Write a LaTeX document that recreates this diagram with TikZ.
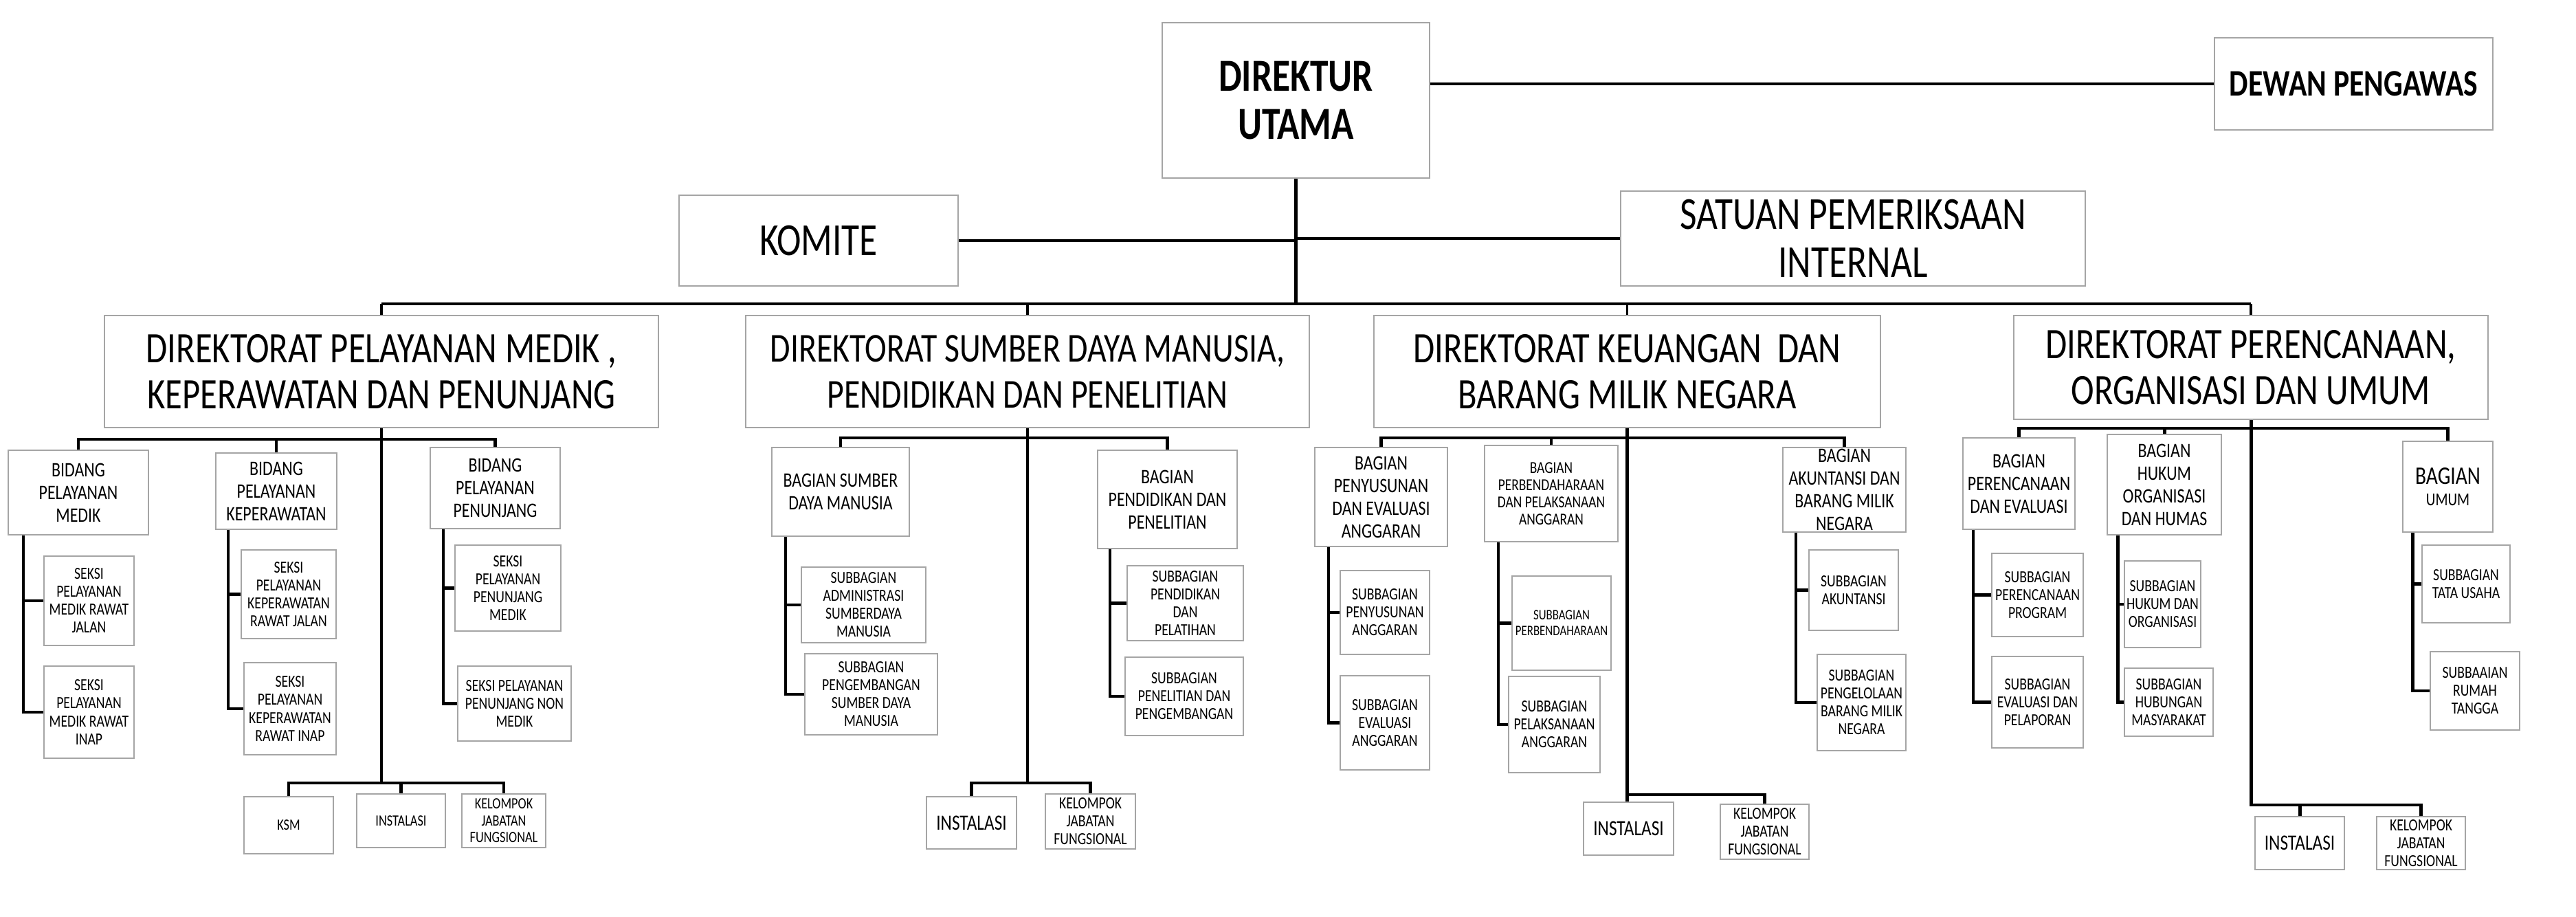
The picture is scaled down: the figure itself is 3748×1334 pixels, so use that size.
\documentclass[tikz,border=0pt]{standalone}
\usepackage{fontspec}
\setmainfont{Carlito}[FakeStretch=0.8]
\definecolor{boxgray}{RGB}{165,165,165}
\newcommand\bx[7]{\node[#6, minimum width={(#4-#2)*0.01cm}, minimum height={(#5-#3)*0.01cm}] (#1) at ({(#2+#4)/2},{(#3+#5)/2}) {#7};}
\tikzset{
  box/.style={draw=boxgray, line width=0.8pt, fill=white, inner sep=0pt, align=center, text=black},
  conn/.style={line width=1.4pt, black},
  thinconn/.style={line width=1.0pt, black},
  fbig/.style={font=\fontsize{19}{20}\selectfont},
  fdir/.style={font=\fontsize{18}{19}\selectfont},
  fbag/.style={font=\fontsize{8.5}{9.4}\selectfont},
  fsub/.style={font=\fontsize{7}{7.4}\selectfont},
  fsmall/.style={font=\fontsize{6.5}{7}\selectfont},
  fins/.style={font=\fontsize{9}{10}\selectfont},
}
\begin{document}
\begin{tikzpicture}[x=0.01cm, y=-0.01cm]
\fill[white] (0,0) rectangle (3748,1334);
\useasboundingbox (0,0) rectangle (3748,1334);

% top level
\bx{du}{1691}{33}{2080}{259}{box,font=\fontsize{19}{20}\selectfont\bfseries}{DIREKTUR\\UTAMA}
\bx{dp}{3222}{55}{3627}{189}{box,font=\fontsize{15.5}{16}\selectfont\bfseries}{DEWAN PENGAWAS}
\bx{kom}{988}{284}{1394}{416}{box,fbig}{KOMITE}
\bx{spi}{2358}{278}{3034}{416}{box,fbig}{SATUAN PEMERIKSAAN\\INTERNAL}

% directorates
\bx{d1}{152}{459}{958}{622}{box,fdir}{DIREKTORAT PELAYANAN MEDIK ,\\KEPERAWATAN DAN PENUNJANG}
\bx{d2}{1085}{459}{1905}{622}{box,font=\fontsize{17}{19}\selectfont}{DIREKTORAT SUMBER DAYA MANUSIA,\\PENDIDIKAN DAN PENELITIAN}
\bx{d3}{1999}{459}{2736}{622}{box,fdir}{DIREKTORAT KEUANGAN\ \ DAN\\BARANG MILIK NEGARA}
\bx{d4}{2930}{459}{3620}{610}{box,fdir}{DIREKTORAT PERENCANAAN,\\ORGANISASI DAN UMUM}

% D1 subtree
\bx{bpm}{12}{655}{216}{778}{box,fbag}{BIDANG\\PELAYANAN\\MEDIK}
\bx{bpk}{314}{659}{490}{770}{box,fbag}{BIDANG\\PELAYANAN\\KEPERAWATAN}
\bx{bpp}{626}{651}{815}{769}{box,fbag}{BIDANG\\PELAYANAN\\PENUNJANG}
\bx{smj}{64}{809}{195}{939}{box,fsub}{SEKSI\\PELAYANAN\\MEDIK RAWAT\\JALAN}
\bx{smi}{64}{969}{195}{1103}{box,fsub}{SEKSI\\PELAYANAN\\MEDIK RAWAT\\INAP}
\bx{skj}{351}{800}{489}{929}{box,fsub}{SEKSI\\PELAYANAN\\KEPERAWATAN\\RAWAT JALAN}
\bx{ski}{355}{964}{489}{1098}{box,fsub}{SEKSI\\PELAYANAN\\KEPERAWATAN\\RAWAT INAP}
\bx{spm}{662}{793}{816}{918}{box,fsub}{SEKSI\\PELAYANAN\\PENUNJANG\\MEDIK}
\bx{spn}{666}{969}{831}{1078}{box,fsub}{SEKSI PELAYANAN\\PENUNJANG NON\\MEDIK}
\bx{ksm}{355}{1159}{485}{1242}{box,fsmall}{KSM}
\bx{ins1}{519}{1155}{648}{1233}{box,fsmall}{INSTALASI}
\bx{kjf1}{672}{1155}{794}{1233}{box,fsmall}{KELOMPOK\\JABATAN\\FUNGSIONAL}

% D2 subtree
\bx{bsdm}{1123}{651}{1323}{780}{box,fbag}{BAGIAN SUMBER\\DAYA MANUSIA}
\bx{bpdp}{1597}{655}{1800}{798}{box,fbag}{BAGIAN\\PENDIDIKAN DAN\\PENELITIAN}
\bx{sasdm}{1166}{825}{1347}{935}{box,fsub}{SUBBAGIAN\\ADMINISTRASI\\SUMBERDAYA\\MANUSIA}
\bx{spsdm}{1171}{951}{1364}{1069}{box,fsub}{SUBBAGIAN\\PENGEMBANGAN\\SUMBER DAYA\\MANUSIA}
\bx{spdp}{1640}{823}{1809}{932}{box,fsub}{SUBBAGIAN\\PENDIDIKAN\\DAN\\PELATIHAN}
\bx{sppp}{1637}{956}{1809}{1070}{box,fsub}{SUBBAGIAN\\PENELITIAN DAN\\PENGEMBANGAN}
\bx{ins2}{1348}{1159}{1479}{1235}{box,fins}{INSTALASI}
\bx{kjf2}{1521}{1155}{1652}{1235}{box,fsub}{KELOMPOK\\JABATAN\\FUNGSIONAL}

% D3 subtree
\bx{bpea}{1913}{651}{2106}{795}{box,fbag}{BAGIAN\\PENYUSUNAN\\DAN EVALUASI\\ANGGARAN}
\bx{bppa}{2160}{648}{2354}{788}{box,font=\fontsize{6.9}{7.1}\selectfont}{BAGIAN\\PERBENDAHARAAN\\DAN PELAKSANAAN\\ANGGARAN}
\bx{bab}{2594}{651}{2773}{774}{box,fbag}{BAGIAN\\AKUNTANSI DAN\\BARANG MILIK\\NEGARA}
\bx{sbpa}{1950}{830}{2080}{952}{box,fsub}{SUBBAGIAN\\PENYUSUNAN\\ANGGARAN}
\bx{sbea}{1950}{983}{2080}{1120}{box,fsub}{SUBBAGIAN\\EVALUASI\\ANGGARAN}
\bx{sbpb}{2200}{838}{2344}{975}{box,font=\fontsize{6}{6.6}\selectfont}{SUBBAGIAN\\PERBENDAHARAAN}
\bx{sbpl}{2195}{984}{2328}{1124}{box,fsub}{SUBBAGIAN\\PELAKSANAAN\\ANGGARAN}
\bx{sbak}{2632}{800}{2762}{917}{box,fsub}{SUBBAGIAN\\AKUNTANSI}
\bx{sbbm}{2644}{952}{2773}{1092}{box,fsub}{SUBBAGIAN\\PENGELOLAAN\\BARANG MILIK\\NEGARA}
\bx{ins3}{2304}{1167}{2435}{1244}{box,fins}{INSTALASI}
\bx{kjf3}{2503}{1170}{2632}{1250}{box,fsub}{KELOMPOK\\JABATAN\\FUNGSIONAL}

% D4 subtree
\bx{bpe}{2856}{637}{3019}{770}{box,fbag}{BAGIAN\\PERENCANAAN\\DAN EVALUASI}
\bx{bho}{3066}{632}{3232}{778}{box,fbag}{BAGIAN\\HUKUM\\ORGANISASI\\DAN HUMAS}
\bx{bum}{3496}{642}{3627}{774}{box,font=\fontsize{7.5}{9}\selectfont}{{\fontsize{10.5}{11}\selectfont BAGIAN}\\UMUM}
\bx{sbpp}{2898}{805}{3031}{926}{box,fsub}{SUBBAGIAN\\PERENCANAAN\\PROGRAM}
\bx{sbep}{2898}{955}{3031}{1088}{box,fsub}{SUBBAGIAN\\EVALUASI DAN\\PELAPORAN}
\bx{sbho}{3091}{816}{3202}{942}{box,fsub}{SUBBAGIAN\\HUKUM DAN\\ORGANISASI}
\bx{sbhm}{3091}{972}{3220}{1071}{box,fsub}{SUBBAGIAN\\HUBUNGAN\\MASYARAKAT}
\bx{sbtu}{3524}{793}{3652}{906}{box,fsub}{SUBBAGIAN\\TATA USAHA}
\bx{sbrt}{3536}{948}{3666}{1062}{box,fsub}{SUBBAAIAN\\RUMAH\\TANGGA}
\bx{ins4}{3281}{1188}{3411}{1265}{box,fins}{INSTALASI}
\bx{kjf4}{3458}{1188}{3587}{1265}{box,fsub}{KELOMPOK\\JABATAN\\FUNGSIONAL}

% helper coordinates
\coordinate (busy) at (0,442);
\coordinate (ub1) at (0,639);
\coordinate (ub2) at (0,637);
\coordinate (ub3) at (0,637);
\coordinate (ub4) at (0,623);
\coordinate (bb1) at (0,1139);
\coordinate (bb2) at (0,1139);
\coordinate (bb3) at (0,1156);
\coordinate (bb4) at (0,1171);
\coordinate (x1a) at (34,0);
\coordinate (x1b) at (332,0);
\coordinate (x1c) at (645,0);
\coordinate (x2a) at (1143,0);
\coordinate (x2b) at (1615,0);
\coordinate (x3a) at (1933,0);
\coordinate (x3b) at (2180,0);
\coordinate (x3c) at (2613,0);
\coordinate (x4a) at (2871,0);
\coordinate (x4b) at (3081,0);
\coordinate (x4c) at (3510,0);

% top connectors
\draw[conn] (du.east |- dp.west) -- (dp.west);
\draw[conn] (du.south) -- (du.south |- busy);
\draw[conn] (kom.east) -- (kom.east -| du.south);
\draw[conn] (spi.west) -- (spi.west -| du.south);
\draw[conn] (d1.north |- busy) -- (d4.north |- busy);
\foreach \n in {d1,d2,d3,d4} \draw[thinconn] (\n.north) -- (\n.north |- busy);

% D1
\draw[conn] (d1.south) -- (d1.south |- bb1);
\draw[conn] (bpm.north) -- (bpm.north |- ub1) -- (bpp.north |- ub1) -- (bpp.north);
\draw[conn] (bpk.north) -- (bpk.north |- ub1);
\draw[conn] (bpm.south -| x1a) |- (smj.west);
\draw[conn] (bpm.south -| x1a) |- (smi.west);
\draw[conn] (bpk.south -| x1b) |- (skj.west);
\draw[conn] (bpk.south -| x1b) |- (ski.west);
\draw[conn] (bpp.south -| x1c) |- (spm.west);
\draw[conn] (bpp.south -| x1c) |- (spn.west);
\draw[conn] (ksm.north) -- (ksm.north |- bb1) -- (kjf1.north |- bb1) -- (kjf1.north);
\draw[conn] (ins1.north) -- (ins1.north |- bb1);

% D2
\draw[conn] (d2.south) -- (d2.south |- bb2);
\draw[conn] (bsdm.north) -- (bsdm.north |- ub2) -- (bpdp.north |- ub2) -- (bpdp.north);
\draw[conn] (bsdm.south -| x2a) |- (sasdm.west);
\draw[conn] (bsdm.south -| x2a) |- (spsdm.west);
\draw[conn] (bpdp.south -| x2b) |- (spdp.west);
\draw[conn] (bpdp.south -| x2b) |- (sppp.west);
\draw[conn] (ins2.north) -- (ins2.north |- bb2) -- (kjf2.north |- bb2) -- (kjf2.north);

% D3
\draw[conn] (d3.south) -- (d3.south |- ins3.north);
\draw[conn] (bpea.north) -- (bpea.north |- ub3) -- (bab.north |- ub3) -- (bab.north);
\draw[conn] (bppa.north) -- (bppa.north |- ub3);
\draw[conn] (bpea.south -| x3a) |- (sbpa.west);
\draw[conn] (bpea.south -| x3a) |- (sbea.west);
\draw[conn] (bppa.south -| x3b) |- (sbpb.west);
\draw[conn] (bppa.south -| x3b) |- (sbpl.west);
\draw[conn] (bab.south -| x3c) |- (sbak.west);
\draw[conn] (bab.south -| x3c) |- (sbbm.west);
\draw[conn] (d3.south |- bb3) -- (kjf3.north |- bb3) -- (kjf3.north);

% D4
\draw[conn] (d4.south) -- (d4.south |- bb4) -- (kjf4.north |- bb4) -- (kjf4.north);
\draw[conn] (ins4.north) -- (ins4.north |- bb4);
\draw[conn] (bpe.north) -- (bpe.north |- ub4) -- (bum.north |- ub4) -- (bum.north);
\draw[conn] (bho.north) -- (bho.north |- ub4);
\draw[conn] (bpe.south -| x4a) |- (sbpp.west);
\draw[conn] (bpe.south -| x4a) |- (sbep.west);
\draw[conn] (bho.south -| x4b) |- (sbho.west);
\draw[conn] (bho.south -| x4b) |- (sbhm.west);
\draw[conn] (bum.south -| x4c) |- (sbtu.west);
\draw[conn] (bum.south -| x4c) |- (sbrt.west);
\end{tikzpicture}
\end{document}
